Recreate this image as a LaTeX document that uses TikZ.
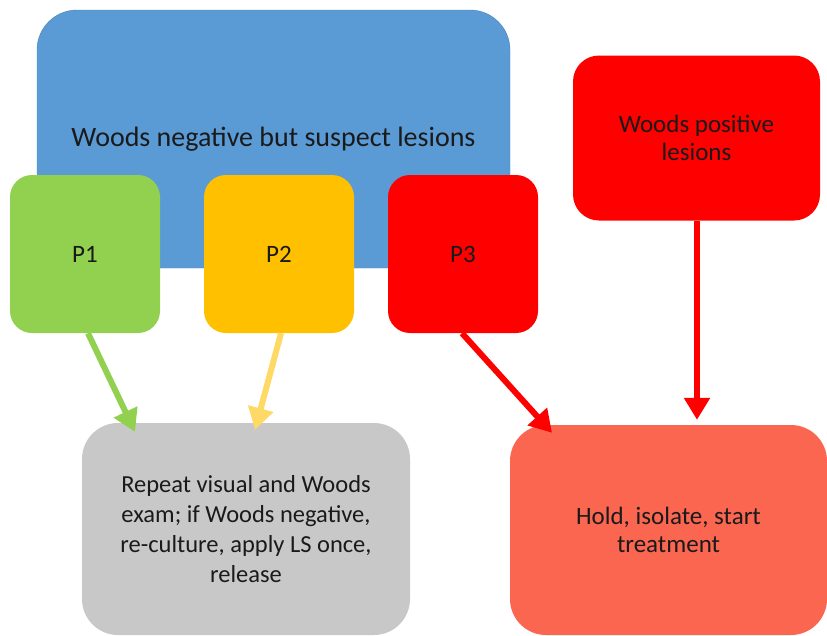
\documentclass[tikz,border=0pt]{standalone}
\usepackage{fontspec}
\setmainfont{Carlito}
\usepackage{tikz}
\usetikzlibrary{arrows.meta}
\definecolor{boxblue}{HTML}{5B9BD5}
\definecolor{boxgreen}{HTML}{92D050}
\definecolor{boxorange}{HTML}{FFC000}
\definecolor{boxred}{HTML}{FF0000}
\definecolor{boxgray}{HTML}{C8C8C8}
\definecolor{boxsalmon}{HTML}{FA6650}
\definecolor{arrowyellow}{HTML}{FFD966}
\definecolor{textdark}{HTML}{1A1A1A}
\tikzset{
  my box style/.style={
    rectangle, rounded corners=#1, align=center,
    text=textdark, inner sep=0pt
  },
  my box style/.default=22pt,
  my arrow style/.style={
    -{Triangle[length=22pt, width=25pt]}, % arrow tip style
    line width=6pt,                        % arrow line thickness
  }
}

\begin{document}
\begin{tikzpicture}[x=1pt, y=-1pt]
    \useasboundingbox (0,0) rectangle (827,635);

    % Big box behind the three priority boxes
    \node[my box style=40pt, fill=boxblue, draw=boxblue!85!black, line width=0.4pt,
          minimum width=473pt, minimum height=258pt, font=\fontsize{28}{32}\selectfont]
          (neg) at (273.5,139) {Woods negative but suspect lesions};

    % Priority boxes P1, P2, P3
    \foreach \name/\xpos/\col in {1/85/boxgreen, 2/279/boxorange, 3/463/boxred} {
    	\node[my box style, fill=\col, minimum width=150pt, minimum height=158pt,
    	      font=\fontsize{25}{28}\selectfont] (p\name) at (\xpos,254) {P\name};
    }

    % Woods positive
    \node[my box style=26pt, fill=boxred, minimum width=247pt, minimum height=165pt,
          font=\fontsize{25}{28}\selectfont] (pos) at (696.5,138) {Woods positive\\lesions};

    % Outcomes
    \node[my box style=36pt, fill=boxgray, minimum width=328pt, minimum height=212pt,
          font=\fontsize{24.5}{30}\selectfont] (rep) at (246,529)
          {Repeat visual and Woods\\exam; if Woods negative,\\re-culture, apply LS once,\\release};
    \node[my box style=36pt, fill=boxsalmon, minimum width=317pt, minimum height=210pt,
          font=\fontsize{25}{28}\selectfont] (hold) at (668.5,530)
          {Hold, isolate, start\\treatment};

    % Arrows
    \draw[my arrow style, boxgreen] ([xshift=3pt]p1.south) -- ([xshift=-111pt, yshift=-9pt]rep.north);
    \draw[my arrow style, arrowyellow] ([xshift=2pt]p2.south) -- ([xshift=9pt, yshift=-7pt]rep.north);
    \draw[my arrow style, boxred] ([xshift=-1pt]p3.south) -- ([xshift=-116.5pt, yshift=-8pt]hold.north);
    \draw[my arrow style, boxred] ([xshift=0.5pt]pos.south) -- ([xshift=28.5pt, yshift=5pt]hold.north);
\end{tikzpicture}
\end{document}
